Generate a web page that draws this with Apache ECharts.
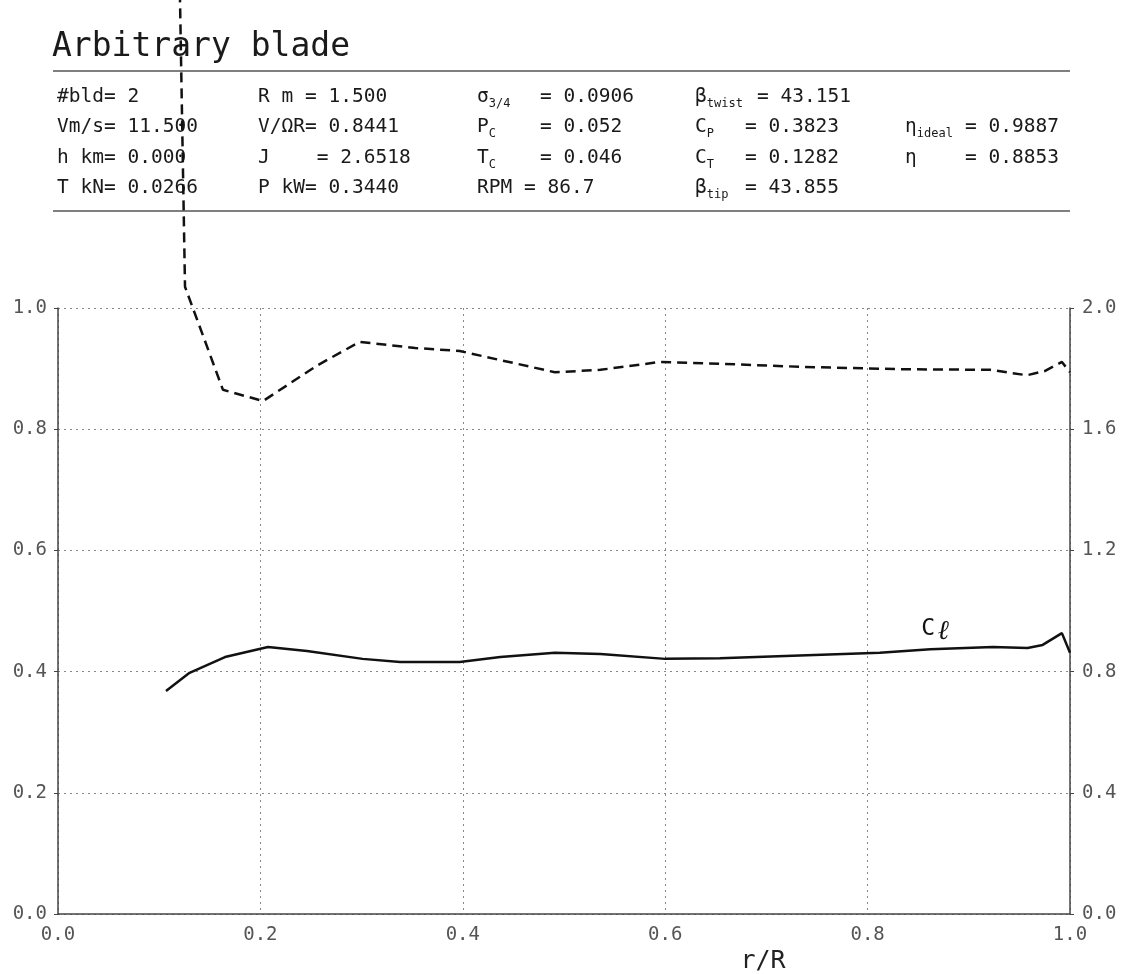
<!DOCTYPE html>
<html>
<head>
<meta charset="utf-8">
<script src="https://cdn.jsdelivr.net/npm/echarts@6/dist/echarts.min.js"></script>
<style>
html,body{margin:0;padding:0;background:#fff;}
#c{width:1126px;height:974px;}
</style>
</head>
<body>
<div id="c"></div>
<script>
// ---- data ----
const titleText = 'Arbitrary blade';
const col1Rows = ['#bld= 2', 'Vm/s= 11.500', 'h km= 0.000', 'T kN= 0.0266'];
const col2Rows = ['R m = 1.500', 'V/ΩR= 0.8441', 'J    = 2.6518', 'P kW= 0.3440'];
const col3Names = [['σ', '3/4'], ['P', 'C'], ['T', 'C'], ['RPM', '']];
const col3Values = ['= 0.0906', '= 0.052', '= 0.046', '= 86.7'];
const col4Names = [['β', 'twist'], ['C', 'P'], ['C', 'T'], ['β', 'tip']];
const col4Values = ['= 43.151', '= 0.3823', '= 0.1282', '= 43.855'];
const col5Names = [null, ['η', 'ideal'], ['η', ''], null];
const col5Values = [null, '= 0.9887', '= 0.8853', null];

const xTicks = [0.0, 0.2, 0.4, 0.6, 0.8, 1.0];
const leftTicks = [0.0, 0.2, 0.4, 0.6, 0.8, 1.0];
const rightTicks = [0.0, 0.4, 0.8, 1.2, 1.6, 2.0];

// dashed curve (left axis)
const dashR = [0.1196, 0.1255, 0.163, 0.2026, 0.257, 0.298, 0.353, 0.397, 0.491, 0.536, 0.595, 0.654, 0.733, 0.832, 0.921, 0.9575, 0.975, 0.992, 1.0];
const dashV = [1.60, 1.035, 0.865, 0.8465, 0.906, 0.944, 0.934, 0.929, 0.894, 0.898, 0.911, 0.908, 0.903, 0.899, 0.898, 0.889, 0.896, 0.911, 0.894];

// C_l curve (right axis)
const clR = [0.1067, 0.130, 0.165, 0.2075, 0.246, 0.301, 0.338, 0.397, 0.437, 0.491, 0.536, 0.600, 0.654, 0.812, 0.862, 0.924, 0.958, 0.973, 0.992, 1.0];
const clV = [0.736, 0.796, 0.848, 0.881, 0.868, 0.842, 0.832, 0.832, 0.848, 0.862, 0.858, 0.842, 0.844, 0.862, 0.874, 0.881, 0.878, 0.888, 0.927, 0.862];

// ---- chart ----
const MONO = 'DejaVu Sans Mono';
const TXT = '#1a1a1a';
const chart = echarts.init(document.getElementById('c'), null, {renderer: 'canvas'});

const rowY = [97, 127, 158, 188];
const fs = 19.5;
function plain(text, x, y) {
  return {type: 'text', x: x, y: y, silent: true,
    style: {text: text, fontFamily: MONO, fontSize: fs, fill: TXT,
      textAlign: 'left', textVerticalAlign: 'middle', align: 'left', verticalAlign: 'middle'}};
}
function subText(name, x, y) {
  return {type: 'text', x: x, y: y, silent: true,
    style: {text: '{n|' + name[0] + '}' + (name[1] ? '{s|' + name[1] + '}' : ''),
      fontFamily: MONO, fontSize: fs, fill: TXT,
      textAlign: 'left', textVerticalAlign: 'middle', align: 'left', verticalAlign: 'middle',
      rich: {
        n: {fontFamily: MONO, fontSize: fs, fill: TXT, lineHeight: 26, verticalAlign: 'middle'},
        s: {fontFamily: MONO, fontSize: 12, fill: TXT, lineHeight: 26, verticalAlign: 'bottom'}
      }}};
}

const g = [];
g.push({type: 'text', x: 52, y: 47, silent: true,
  style: {text: titleText, fontFamily: MONO, fontSize: 33, fill: TXT,
    textAlign: 'left', textVerticalAlign: 'middle', align: 'left', verticalAlign: 'middle'}});
g.push({type: 'line', silent: true, shape: {x1: 53, y1: 71, x2: 1070, y2: 71}, style: {stroke: '#555', lineWidth: 1.5}});
g.push({type: 'line', silent: true, shape: {x1: 53, y1: 211, x2: 1070, y2: 211}, style: {stroke: '#555', lineWidth: 1.5}});
for (let i = 0; i < 4; i++) {
  g.push(plain(col1Rows[i], 57, rowY[i]));
  g.push(plain(col2Rows[i], 258, rowY[i]));
  g.push(subText(col3Names[i], 477, rowY[i]));
  g.push(plain(col3Values[i], i === 3 ? 524 : 540, rowY[i]));
  g.push(subText(col4Names[i], 695, rowY[i]));
  g.push(plain(col4Values[i], i === 0 ? 757 : 745, rowY[i]));
  if (col5Names[i]) {
    g.push(subText(col5Names[i], 905, rowY[i]));
    g.push(plain(col5Values[i], 965, rowY[i]));
  }
}
g.push({type: 'text', x: 763, y: 961, silent: true,
  style: {text: 'r/R', fontFamily: MONO, fontSize: 25, fill: '#222',
    textAlign: 'center', textVerticalAlign: 'middle', align: 'center', verticalAlign: 'middle'}});

const gridLine = {show: true, lineStyle: {color: '#888', width: 1, type: [2, 4]}};
const axisLabel = {color: '#555', fontFamily: MONO, fontSize: 19};

const option = {
  animation: false,
  backgroundColor: '#fff',
  grid: {left: 58, right: 56, top: 308, bottom: 60, containLabel: false},
  xAxis: {
    type: 'value', min: 0, max: 1, interval: 0.2,
    axisLine: {show: true, onZero: false, lineStyle: {color: '#444', width: 1.5}},
    axisTick: {show: false},
    axisLabel: Object.assign({margin: 12, formatter: v => v.toFixed(1)}, axisLabel),
    splitLine: gridLine
  },
  yAxis: [
    {
      type: 'value', min: 0, max: 1, interval: 0.2, position: 'left',
      axisLine: {show: true, lineStyle: {color: '#444', width: 1.5}},
      axisTick: {show: true, length: 4, lineStyle: {color: '#444'}},
      axisLabel: Object.assign({margin: 11, formatter: v => v.toFixed(1)}, axisLabel),
      splitLine: gridLine
    },
    {
      type: 'value', min: 0, max: 2, interval: 0.4, position: 'right',
      axisLine: {show: true, lineStyle: {color: '#444', width: 1.5}},
      axisTick: {show: true, length: 4, lineStyle: {color: '#444'}},
      axisLabel: Object.assign({margin: 12, formatter: v => v.toFixed(1)}, axisLabel),
      splitLine: {show: false}
    }
  ],
  series: [
    {
      type: 'line', name: 'eta', xAxisIndex: 0, yAxisIndex: 0,
      data: dashR.map((r, i) => [r, dashV[i]]),
      showSymbol: false, clip: false, z: 5,
      lineStyle: {color: '#111', width: 2.5, type: [10, 6]}
    },
    {
      type: 'line', name: 'Cl', xAxisIndex: 0, yAxisIndex: 1,
      data: clR.map((r, i) => [r, clV[i]]),
      showSymbol: false, clip: false, z: 5,
      lineStyle: {color: '#111', width: 2.5}
    }
  ],
  graphic: g
};
chart.setOption(option);

// Cl label placed in data coordinates
const p = chart.convertToPixel({xAxisIndex: 0, yAxisIndex: 1}, [0.853, 0.94]);
g.push({type: 'text', x: p[0], y: p[1], silent: true,
  style: {text: '{c|C}{l|ℓ}', textAlign: 'left', textVerticalAlign: 'middle', align: 'left', verticalAlign: 'middle',
    rich: {
      c: {fontFamily: MONO, fontSize: 23, fill: '#111', lineHeight: 32, verticalAlign: 'middle'},
      l: {fontFamily: 'DejaVu Serif', fontSize: 27, fontWeight: 'bold', fontStyle: 'italic', fill: '#111', lineHeight: 32, verticalAlign: 'bottom', padding: [14, 0, 0, 3]}
    }}});
chart.setOption({graphic: g}, {replaceMerge: ['graphic']});
</script>
</body>
</html>
